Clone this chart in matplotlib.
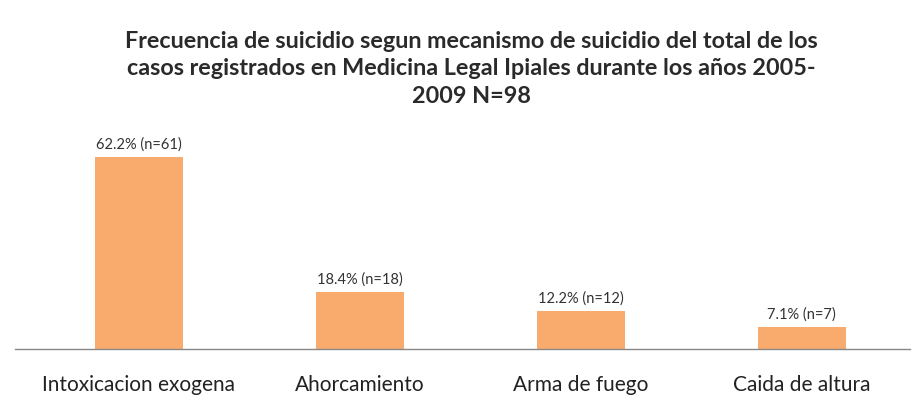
import matplotlib
matplotlib.use("Agg")
import matplotlib.pyplot as plt

categories = ["Intoxicacion exogena", "Ahorcamiento", "Arma de fuego", "Caida de altura"]
percentages = [62.2, 18.4, 12.2, 7.1]
counts = [61, 18, 12, 7]
title = ("Frecuencia de suicidio segun mecanismo de suicidio del total de los\n"
         "casos registrados en Medicina Legal Ipiales durante los años 2005-\n"
         "2009 N=98")

plt.rcParams['font.family'] = ['Lato', 'DejaVu Sans']

fig = plt.figure(figsize=(9.18, 4.10), dpi=100)
ax = fig.add_axes([15/918, 1-350/410, (910-15)/918, (350-130)/410])
x = range(len(categories))
ax.bar(x, percentages, width=0.4, color="#F9AB6E")
for xi, p, n in zip(x, percentages, counts):
    ax.text(xi, p + 2.0, f"{p:.1f}% (n={n})", ha="center", va="bottom",
            fontsize=10.5, color="#333333")
ax.set_xlim(-0.56, 3.49)
ax.set_ylim(0, 71.2)
ax.set_xticks(list(x))
ax.set_xticklabels(categories, fontsize=15, color="#222222")
ax.tick_params(axis="x", length=0, pad=18)
ax.set_yticks([])
for s in ["top", "right", "left"]:
    ax.spines[s].set_visible(False)
ax.spines["bottom"].set_color("#888888")
ax.spines["bottom"].set_linewidth(1.0)
fig.text(471/918, 1-31/410, title, ha="center", va="top", fontsize=16.8,
         fontweight="bold", color="#2a2a2a", linespacing=1.38)
fig.savefig("out.png", dpi=100)
